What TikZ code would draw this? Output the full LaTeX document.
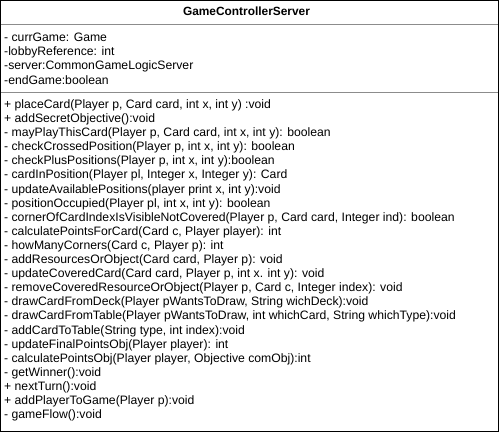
\documentclass[tikz,border=0pt]{standalone}
\usepackage{fontspec}
\setmainfont{Liberation Sans}
\begin{document}
\begin{tikzpicture}[x=1bp,y=-1bp,
  box/.style={draw=black,line width=1.3bp},
  sep/.style={draw=black!45,line width=0.9bp},
  member/.style={anchor=base west,inner sep=0pt,font=\fontsize{12.2bp}{14bp}\selectfont},
  title/.style={anchor=base,inner sep=0pt,font=\fontsize{11.9bp}{14bp}\selectfont\bfseries}]
\useasboundingbox (0,0) rectangle (499,432);
\draw[box] (0.8,0.8) rectangle (498.2,431.2);
\coordinate (s1l) at (0.8,24);
\coordinate (s1r) at (498.2,24);
\coordinate (s2l) at (0.8,92.5);
\coordinate (s2r) at (498.2,92.5);
\draw[sep] (s1l) -- (s1r);
\draw[sep] (s2l) -- (s2r);
\node[title] (title) at (246.5,15.3) {GameControllerServer};
\foreach \t [count=\i from 0] in {
  {- currGame: Game},
  {-lobbyReference: int},
  {-server:CommonGameLogicServer},
  {-endGame:boolean}}
  \node[member] (a\i) at (4,41.7+14.1*\i) {\t};
\foreach \t [count=\i from 0] in {
  {+ placeCard(Player p, Card card, int x, int y) :void},
  {+ addSecretObjective():void},
  {- mayPlayThisCard(Player p, Card card, int x, int y): boolean},
  {- checkCrossedPosition(Player p, int x, int y): boolean},
  {- checkPlusPositions(Player p, int x, int y):boolean},
  {- cardInPosition(Player pl, Integer x, Integer y): Card},
  {- updateAvailablePositions(player print x, int y):void},
  {- positionOccupied(Player pl, int x, int y): boolean},
  {- cornerOfCardIndexIsVisibleNotCovered(Player p, Card card, Integer ind): boolean},
  {- calculatePointsForCard(Card c, Player player): int},
  {- howManyCorners(Card c, Player p): int},
  {- addResourcesOrObject(Card card, Player p): void},
  {- updateCoveredCard(Card card, Player p, int x. int y): void},
  {- removeCoveredResourceOrObject(Player p, Card c, Integer index): void},
  {- drawCardFromDeck(Player pWantsToDraw, String wichDeck):void},
  {- drawCardFromTable(Player pWantsToDraw, int whichCard, String whichType):void},
  {- addCardToTable(String type, int index):void},
  {- updateFinalPointsObj(Player player): int},
  {- calculatePointsObj(Player player, Objective comObj):int},
  {- getWinner():void},
  {+ nextTurn():void},
  {+ addPlayerToGame(Player p):void},
  {- gameFlow():void}}
  \node[member] (m\i) at (4,108.4+14.1*\i) {\t};
\end{tikzpicture}
\end{document}
